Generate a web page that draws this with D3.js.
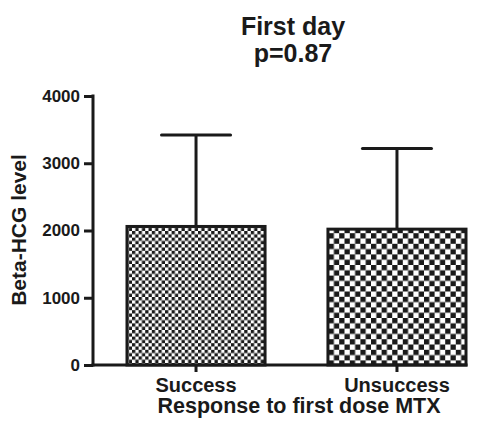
<!DOCTYPE html>
<html>
<head>
<meta charset="utf-8">
<script src="https://cdn.jsdelivr.net/npm/d3@7"></script>
<style>
  html, body { margin: 0; padding: 0; background: #fff; }
  svg { display: block; }
  text { font-family: "Liberation Sans", Arial, Helvetica, sans-serif; font-weight: bold; fill: #1a1a1a; }
</style>
</head>
<body>
<svg id="chart" width="491" height="426"></svg>
<script>
// Mean first-day Beta-HCG level by response to the first MTX dose, with SD error bars
const categories = ["Success", "Unsuccess"];
const means = [2060, 2020];
const sds = [1360, 1200];
const yTicks = [0, 1000, 2000, 3000, 4000];
const titleLines = ["First day", "p=0.87"];
const yTitle = "Beta-HCG level";
const xTitle = "Response to first dose MTX";

const ink = "#1a1a1a";
const svg = d3.select("#chart");

const axisX = 93;
const y = d3.scaleLinear().domain([0, 4000]).range([365, 96]);
const x = d3.scaleBand().domain(categories).range([127, 466]).paddingInner(0.313).paddingOuter(0);

// Checkerboard fills: a fine one and a coarse one
const defs = svg.append("defs");
function checker(id, cell) {
  const p = defs.append("pattern")
    .attr("id", id)
    .attr("patternUnits", "userSpaceOnUse")
    .attr("width", cell * 2).attr("height", cell * 2);
  p.append("rect").attr("width", cell * 2).attr("height", cell * 2).attr("fill", "#fff");
  p.append("rect").attr("x", 0).attr("y", 0).attr("width", cell).attr("height", cell).attr("fill", ink);
  p.append("rect").attr("x", cell).attr("y", cell).attr("width", cell).attr("height", cell).attr("fill", ink);
}
checker("fine", 3.3);
checker("coarse", 5.3);
const fills = ["url(#fine)", "url(#coarse)"];

// Bars
svg.append("g").selectAll("rect")
  .data(categories)
  .join("rect")
  .attr("x", d => x(d))
  .attr("y", (d, i) => y(means[i]))
  .attr("width", x.bandwidth())
  .attr("height", (d, i) => y(0) - y(means[i]))
  .attr("fill", (d, i) => fills[i])
  .attr("stroke", ink)
  .attr("stroke-width", 3);

// Upper error bars
const eb = svg.append("g").attr("stroke", ink).attr("stroke-width", 3).attr("stroke-linecap", "round");
categories.forEach((c, i) => {
  const cx = x(c) + x.bandwidth() / 2;
  const capHalf = x.bandwidth() / 4;
  eb.append("line").attr("x1", cx).attr("x2", cx)
    .attr("y1", y(means[i])).attr("y2", y(means[i] + sds[i])).attr("stroke-linecap", "butt");
  eb.append("line").attr("x1", cx - capHalf).attr("x2", cx + capHalf)
    .attr("y1", y(means[i] + sds[i])).attr("y2", y(means[i] + sds[i]));
});

// Y axis
const yAxis = d3.axisLeft(y).tickValues(yTicks).tickFormat(d3.format("d"))
  .tickSize(9).tickPadding(4).tickSizeOuter(0);
const gy = svg.append("g").attr("transform", `translate(${axisX},0)`).call(yAxis);
gy.select(".domain").attr("stroke", ink).attr("stroke-width", 3).attr("d", `M0,${y(0) + 1.5}V${y(4000) - 1.5}`);
gy.selectAll(".tick line").attr("stroke", ink).attr("stroke-width", 3);
gy.selectAll(".tick text").style("font-size", "17px").attr("fill", ink).attr("font-family", null);

// X axis
const xAxis = d3.axisBottom(x).tickSize(7).tickPadding(6).tickSizeOuter(0);
const gx = svg.append("g").attr("transform", `translate(0,${y(0)})`).call(xAxis);
gx.select(".domain").attr("stroke", ink).attr("stroke-width", 3).attr("d", `M${axisX - 1.5},0H${x.range()[1] + 1.5}`);
gx.selectAll(".tick line").attr("stroke", ink).attr("stroke-width", 3);
gx.selectAll(".tick text").style("font-size", "20px").attr("fill", ink).attr("font-family", null);

// Titles
svg.append("text").attr("x", 293).attr("y", 35).attr("text-anchor", "middle")
  .style("font-size", "25px").text(titleLines[0]);
svg.append("text").attr("x", 293).attr("y", 62).attr("text-anchor", "middle")
  .style("font-size", "25px").text(titleLines[1]);

svg.append("text")
  .attr("transform", `translate(26,230) rotate(-90)`)
  .attr("text-anchor", "middle")
  .style("font-size", "21px").text(yTitle);

svg.append("text").attr("x", 299).attr("y", 413).attr("text-anchor", "middle")
  .style("font-size", "21.5px").text(xTitle);
</script>
</body>
</html>
